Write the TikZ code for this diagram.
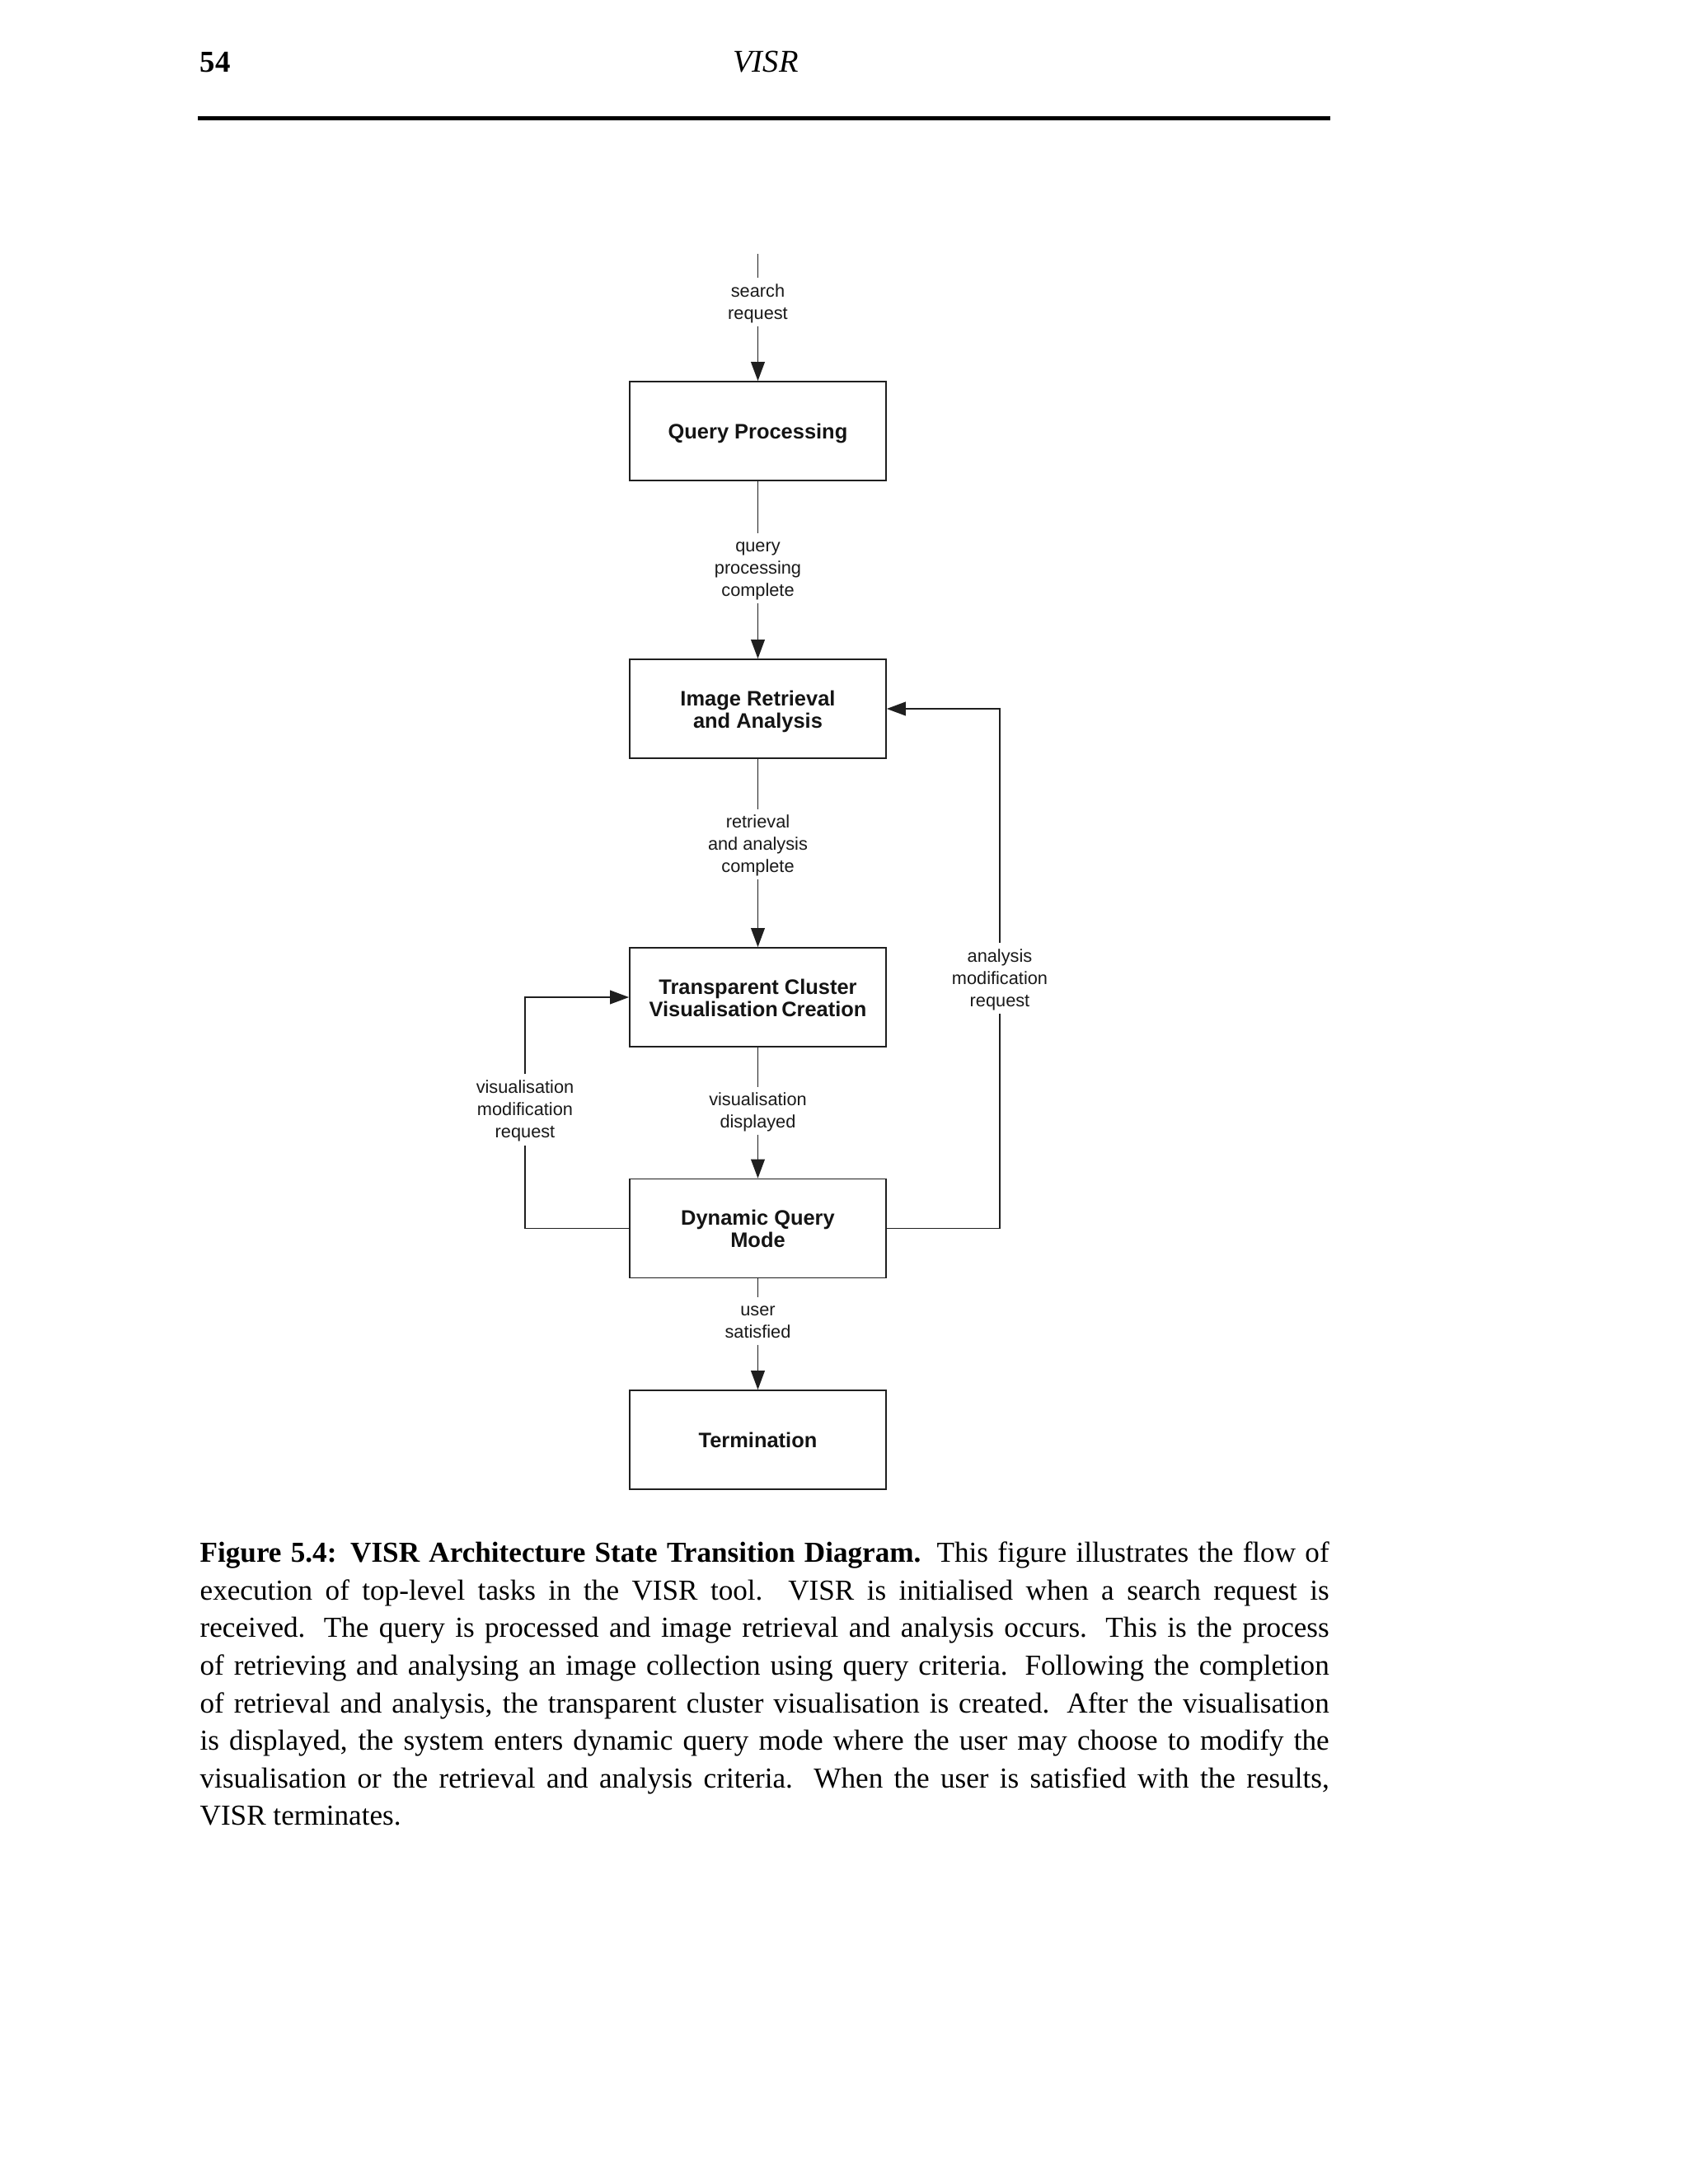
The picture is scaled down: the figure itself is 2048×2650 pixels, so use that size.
\documentclass[tikz,border=0pt]{standalone}
\usepackage{fontspec}
\setmainfont{Liberation Serif}
\newfontfamily\diagfont{Liberation Sans}
\usetikzlibrary{arrows.meta}
\newcommand\bxtop{\rule{0pt}{7.5pt}}
\newcommand\bxbot{\rule[-1.7pt]{0pt}{0pt}}
\newcommand\lbtop{\rule{0pt}{6pt}}
\newcommand\lbbot{\rule[-1.72pt]{0pt}{0pt}}
\begin{document}
\begin{tikzpicture}[x=0.298828pt,y=-0.298828pt,
  box/.style={draw=black!88, line width=0.5pt, minimum width=92.94pt, minimum height=35.86pt,
    inner sep=0pt, align=center, text=black!92,
    font=\diagfont\bfseries\fontsize{7.6pt}{8.07pt}\selectfont},
  lbl/.style={inner sep=0pt, align=center, text=black!90,
    font=\diagfont\fontsize{6.5pt}{8.07pt}\selectfont},
  conn/.style={draw=black!88, line width=0.5pt},
  arr/.style={conn, -{Triangle[length=6.9pt,width=5pt]}}]
\useasboundingbox[fill=white] (0,0) rectangle (2048,2650);

% running head
\node[anchor=base west, inner sep=0pt, font=\bfseries\fontsize{11pt}{13pt}\selectfont] (pg) at (242,87) {54};
\node[anchor=base, inner sep=0pt, font=\itshape\fontsize{11.5pt}{13pt}\selectfont] (hd) at (929,87) {VISR};
\coordinate (ruleL) at (240,143.5);
\coordinate (ruleR) at (1614,143.5);
\draw[line width=1.5pt] (ruleL) -- (ruleR);

% states
\coordinate (in) at (919.5,308);
\node[lbl, minimum height=17.03pt] (l1) at (919.5,366.5) {\lbtop search\\request\lbbot};
\node[box] (qp) at (919.5,523) {\bxtop Query Processing\bxbot};
\node[lbl, minimum height=24.8pt] (l2) at (919.5,689.5) {\lbtop query\\processing\\complete\lbbot};
\node[box] (ira) at (919.5,860) {\bxtop Image Retrieval\\and Analysis\bxbot};
\node[lbl, minimum height=24.8pt] (l3) at (919.5,1024.5) {\lbtop retrieval\\and analysis\\complete\lbbot};
\node[box] (tcvc) at (919.5,1210) {\bxtop Transparent Cluster\\Visualisation\,Creation\bxbot};
\node[lbl, minimum height=16.73pt] (l4) at (919.5,1348) {\lbtop visualisation\\displayed\lbbot};
\node[box] (dqm) at (919.5,1490.5) {\bxtop Dynamic Query\\Mode\bxbot};
\node[lbl, minimum height=16.73pt] (l5) at (919.5,1603) {\lbtop user\\satisfied\lbbot};
\node[box] (term) at (919.5,1747) {\bxtop Termination\bxbot};
\node[lbl, minimum height=25.1pt] (l6) at (1213,1187) {\lbtop analysis\\modification\\request\lbbot};
\node[lbl, minimum height=25.4pt] (l7) at (637,1346.5) {\lbtop visualisation\\modification\\request\lbbot};

% transitions
\draw[arr] (in) -- (l1) -- (qp);
\draw[arr] (qp) -- (l2) -- (ira);
\draw[arr] (ira) -- (l3) -- (tcvc);
\draw[arr] (tcvc) -- (l4) -- (dqm);
\draw[arr] (dqm) -- (l5) -- (term);
\draw[conn] (dqm.east) -| (l6);
\draw[arr] (l6) |- (ira);
\draw[conn] (dqm.west) -| (l7);
\draw[arr] (l7) |- (tcvc);

% caption
\node[anchor=north west, inner sep=0pt, text width=409.4pt, align=justify,
  font=\fontsize{10.5pt}{13.63pt}\selectfont] (cap) at (242,1863)
{\strut\textbf{Figure 5.4: VISR Architecture State Transition Diagram.} This figure illustrates the flow of\linebreak
execution of top-level tasks in the VISR tool.\ \ VISR is initialised when a search request is\linebreak
received. The query is processed and image retrieval and analysis occurs. This is the process\linebreak
of retrieving and analysing an image collection using query criteria. Following the completion\linebreak
of retrieval and analysis, the transparent cluster visualisation is created. After the visualisation\linebreak
is displayed, the system enters dynamic query mode where the user may choose to modify the\linebreak
visualisation or the retrieval and analysis criteria. When the user is satisfied with the results,\linebreak
VISR terminates.};
\end{tikzpicture}
\end{document}
